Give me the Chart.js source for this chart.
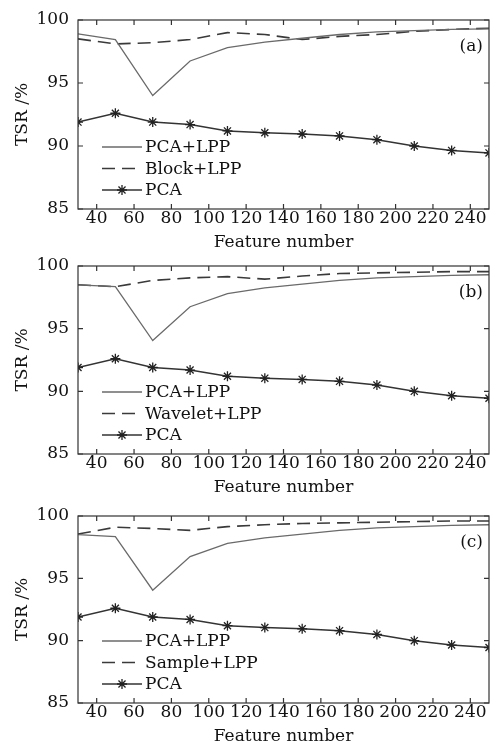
<!DOCTYPE html>
<html>
<head>
<meta charset="utf-8">
<script src="https://cdn.jsdelivr.net/npm/chart.js"></script>
<style>
    html, body { margin: 0; padding: 0; background: #fff; }
    #wrap { position: relative; width: 496px; height: 749px; overflow: hidden; }
    #wrap canvas { position: absolute; left: 0; }
</style>
</head>
<body>
<div id="wrap">
    <canvas id="chart-a" width="496" height="256"></canvas>
    <canvas id="chart-b" width="496" height="256"></canvas>
    <canvas id="chart-c" width="496" height="253"></canvas>
</div>
<script>
/* ======================
   DATA
   ====================== */

// Feature numbers (x) and tick labels
const featureNumbers = [30, 50, 70, 90, 110, 130, 150, 170, 190, 210, 230, 250];
const xTicks = [40, 60, 80, 100, 120, 140, 160, 180, 200, 220, 240];
const yTicks = [85, 90, 95, 100];

// TSR /% values
const pcaLppA    = [98.9, 98.45, 94.0, 96.75, 97.8, 98.25, 98.55, 98.85, 99.05, 99.15, 99.25, 99.3];
const pcaLpp     = [98.5, 98.35, 94.05, 96.75, 97.8, 98.25, 98.55, 98.85, 99.05, 99.15, 99.25, 99.3];
const blockLpp   = [98.5, 98.1, 98.2, 98.45, 99.0, 98.85, 98.45, 98.7, 98.85, 99.1, 99.25, 99.35];
const waveletLpp = [98.5, 98.35, 98.85, 99.05, 99.15, 98.95, 99.2, 99.4, 99.45, 99.5, 99.55, 99.55];
const sampleLpp  = [98.55, 99.1, 99.0, 98.85, 99.15, 99.3, 99.4, 99.45, 99.5, 99.55, 99.6, 99.6];
const pca        = [91.9, 92.6, 91.9, 91.7, 91.2, 91.05, 90.95, 90.8, 90.5, 90.0, 89.65, 89.45];

/* ======================
   HELPERS
   ====================== */

const FONT = '"DejaVu Serif", "Liberation Serif", serif';
Chart.defaults.font.family = FONT;
Chart.defaults.font.size = 17;
Chart.defaults.color = '#111';

const toPoints = (values) => featureNumbers.map((x, i) => ({ x, y: values[i] }));

const solidSet = (label, values) => ({
    label, data: toPoints(values),
    borderColor: '#6a6a6a', borderWidth: 1.3, pointRadius: 0, tension: 0
});
const dashedSet = (label, values) => ({
    label, data: toPoints(values),
    borderColor: '#3a3a3a', borderWidth: 1.6, borderDash: [13, 7], pointRadius: 0, tension: 0
});
const pcaSet = () => ({
    label: 'PCA', data: toPoints(pca),
    borderColor: '#333', borderWidth: 1.5, tension: 0,
    pointStyle: 'star', pointRadius: 5, pointBorderWidth: 1.3, pointBorderColor: '#222'
});

// frame with inward ticks on all four sides
const framePlugin = {
    id: 'frame',
    afterDraw(chart) {
        const { ctx, chartArea: a, scales } = chart;
        ctx.save();
        ctx.strokeStyle = '#333';
        ctx.lineWidth = 1.2;
        ctx.strokeRect(a.left, a.top, a.right - a.left, a.bottom - a.top);
        ctx.beginPath();
        xTicks.forEach(v => {
            const px = scales.x.getPixelForValue(v);
            ctx.moveTo(px, a.bottom); ctx.lineTo(px, a.bottom - 5);
            ctx.moveTo(px, a.top); ctx.lineTo(px, a.top + 5);
        });
        yTicks.forEach(v => {
            const py = scales.y.getPixelForValue(v);
            ctx.moveTo(a.left, py); ctx.lineTo(a.left + 5, py);
            ctx.moveTo(a.right, py); ctx.lineTo(a.right - 5, py);
        });
        ctx.stroke();
        ctx.restore();
    }
};

// legend inside the lower-left corner of the plot
const innerLegendPlugin = {
    id: 'innerLegend',
    afterDraw(chart) {
        const { ctx, chartArea: a } = chart;
        ctx.save();
        chart.data.datasets.forEach((ds, i) => {
            const y = a.bottom - 62 + i * 21.5;
            const x0 = a.left + 24, x1 = a.left + 64;
            ctx.strokeStyle = ds.borderColor;
            ctx.lineWidth = ds.borderWidth;
            ctx.setLineDash(ds.borderDash || []);
            ctx.beginPath();
            ctx.moveTo(x0, y); ctx.lineTo(x1, y);
            ctx.stroke();
            ctx.setLineDash([]);
            if (ds.pointRadius) {
                const cx = (x0 + x1) / 2, r = ds.pointRadius;
                const d = r * Math.SQRT1_2;
                ctx.strokeStyle = ds.pointBorderColor;
                ctx.lineWidth = ds.pointBorderWidth;
                ctx.beginPath();
                ctx.moveTo(cx, y - r); ctx.lineTo(cx, y + r);
                ctx.moveTo(cx - r, y); ctx.lineTo(cx + r, y);
                ctx.moveTo(cx - d, y - d); ctx.lineTo(cx + d, y + d);
                ctx.moveTo(cx - d, y + d); ctx.lineTo(cx + d, y - d);
                ctx.stroke();
            }
            ctx.fillStyle = '#111';
            ctx.font = '17px ' + FONT;
            ctx.textAlign = 'left';
            ctx.textBaseline = 'middle';
            ctx.fillText(ds.label, x1 + 3, y + 1);
        });
        ctx.restore();
    }
};

// panel tag, e.g. (a)
const panelTagPlugin = {
    id: 'panelTag',
    afterDraw(chart, args, opts) {
        const { ctx, chartArea: a } = chart;
        ctx.save();
        ctx.fillStyle = '#111';
        ctx.font = '17px ' + FONT;
        ctx.textAlign = 'right';
        ctx.textBaseline = 'middle';
        ctx.fillText(opts.text, a.right - 6, a.top + 27);
        ctx.restore();
    }
};

/* ======================
   PANELS
   ====================== */

const makePanel = (canvasId, canvasTop, bottomPad, tag, datasets) => {
    const canvas = document.getElementById(canvasId);
    canvas.style.top = canvasTop + 'px';
    new Chart(canvas.getContext('2d'), {
        type: 'line',
        data: { datasets },
        options: {
            responsive: false,
            animation: false,
            devicePixelRatio: 1,
            layout: { padding: { top: 20, right: 7, left: 0, bottom: bottomPad } },
            plugins: {
                legend: { display: false },
                tooltip: { enabled: false },
                panelTag: { text: tag }
            },
            scales: {
                x: {
                    type: 'linear', min: 30, max: 250,
                    afterBuildTicks: (s) => { s.ticks = xTicks.map(v => ({ value: v })); },
                    afterFit: (s) => { s.height = 45; },
                    grid: { display: false, drawTicks: false },
                    border: { display: false },
                    ticks: { padding: -1, maxRotation: 0, autoSkip: false, color: '#111' },
                    title: { display: true, text: 'Feature number', padding: { top: 0, bottom: 1 }, color: '#111' }
                },
                y: {
                    min: 85, max: 100,
                    afterBuildTicks: (s) => { s.ticks = yTicks.map(v => ({ value: v })); },
                    afterFit: (s) => { s.width = 78; },
                    grid: { display: false, drawTicks: false },
                    border: { display: false },
                    ticks: { padding: 9, color: '#111' },
                    title: { display: true, text: 'TSR /%', padding: { top: 12, bottom: 0 }, color: '#111' }
                }
            }
        },
        plugins: [framePlugin, innerLegendPlugin, panelTagPlugin]
    });
};

makePanel('chart-a', 0, 2, '(a)', [
    solidSet('PCA+LPP', pcaLppA),
    dashedSet('Block+LPP', blockLpp),
    pcaSet()
]);
makePanel('chart-b', 246, 3, '(b)', [
    solidSet('PCA+LPP', pcaLpp),
    dashedSet('Wavelet+LPP', waveletLpp),
    pcaSet()
]);
makePanel('chart-c', 496, 1, '(c)', [
    solidSet('PCA+LPP', pcaLpp),
    dashedSet('Sample+LPP', sampleLpp),
    pcaSet()
]);
</script>
</body>
</html>
